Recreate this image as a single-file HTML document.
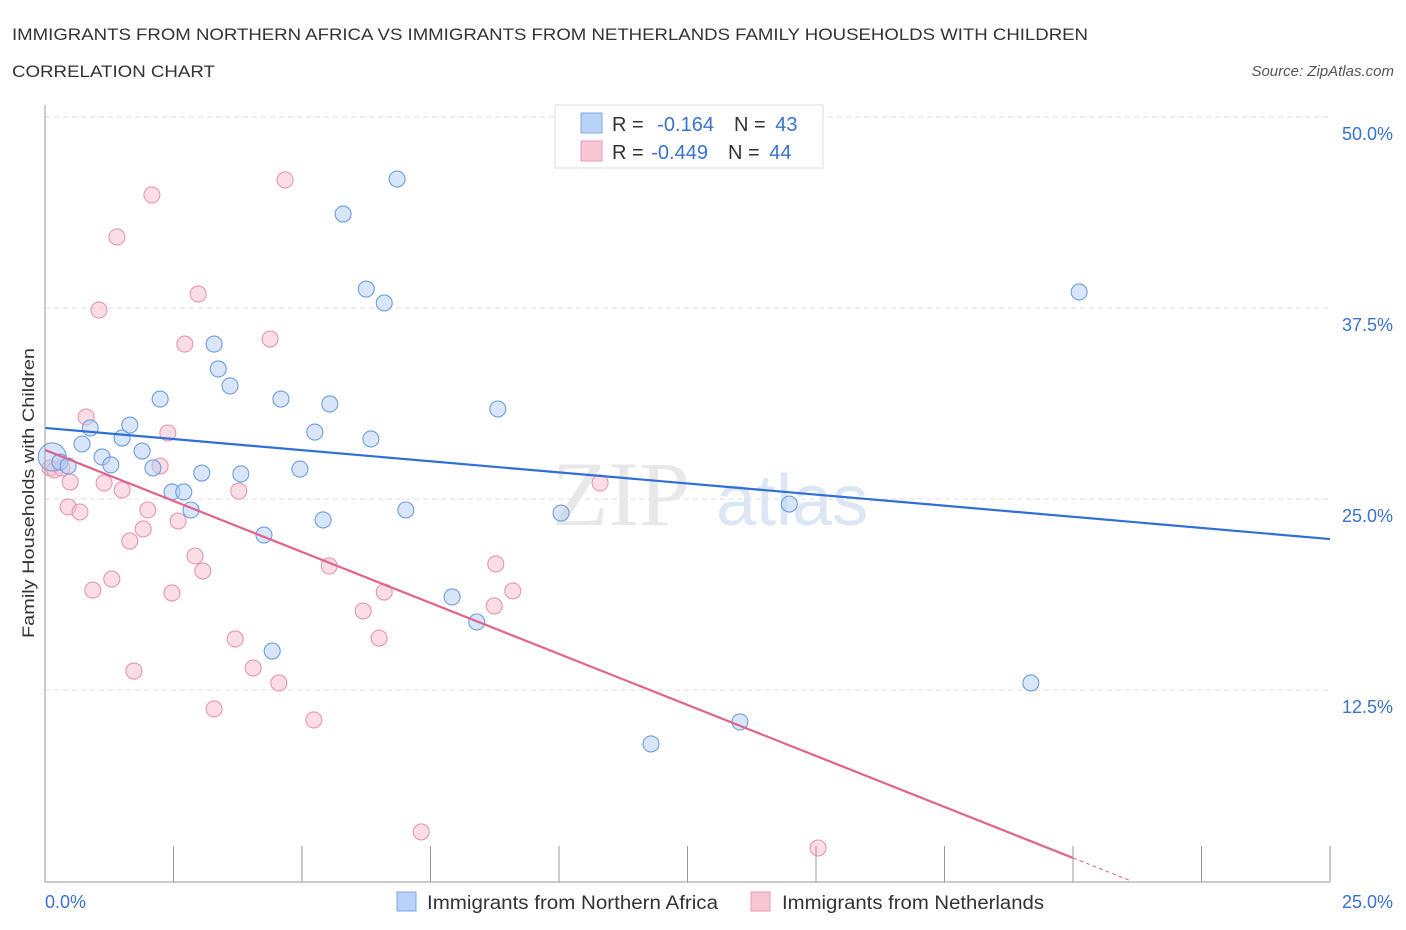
<!DOCTYPE html>
<html><head><meta charset="utf-8"><style>
body{margin:0;background:#fff;font-family:"Liberation Sans",sans-serif;}
svg{display:block}
</style></head><body>
<svg id="c" width="1406" height="930" font-family="Liberation Sans, sans-serif">
<text x="12" y="40" font-size="17" fill="#333" textLength="1076" lengthAdjust="spacingAndGlyphs">IMMIGRANTS FROM NORTHERN AFRICA VS IMMIGRANTS FROM NETHERLANDS FAMILY HOUSEHOLDS WITH CHILDREN</text>
<text x="12" y="77" font-size="17" fill="#333" textLength="203" lengthAdjust="spacingAndGlyphs">CORRELATION CHART</text>
<text x="1394" y="76" font-size="15" fill="#555" font-style="italic" text-anchor="end">Source: ZipAtlas.com</text>
<g id="grid"></g>
<text x="690" y="525" font-size="92" fill="#e8e8e8" font-family="Liberation Serif, serif" text-anchor="end">ZIP</text>
<text x="716" y="525" font-size="72" fill="#dde6f4">atlas</text>
<g id="pts"></g>
<g id="lines"></g>
<g id="axes"></g>
<text x="45" y="908" font-size="18" fill="#3a72d0">0.0%</text>
<text x="1393" y="908" font-size="18" fill="#3a72d0" text-anchor="end">25.0%</text>
<text transform="translate(34,493) rotate(-90)" font-size="17" fill="#333" text-anchor="middle" textLength="290" lengthAdjust="spacingAndGlyphs">Family Households with Children</text>
<g>
<rect x="555" y="105" width="268" height="63" fill="#fff" stroke="#ddd"/>
<rect x="581" y="113" width="21" height="20" fill="#b9d2f7" stroke="#7ea8e6"/>
<rect x="581" y="141" width="21" height="20" fill="#f9c6d5" stroke="#eb9bb4"/>
<text x="612" y="131" font-size="20" fill="#333">R = <tspan fill="#3a72d0" dx="8">-0.164</tspan><tspan dx="20">N = </tspan><tspan fill="#3a72d0" dx="4">43</tspan></text>
<text x="612" y="159" font-size="20" fill="#333">R = <tspan fill="#3a72d0" dx="2">-0.449</tspan><tspan dx="20">N = </tspan><tspan fill="#3a72d0" dx="4">44</tspan></text>
</g>
<g>
<rect x="397" y="892" width="19" height="19" fill="#b9d2f7" stroke="#7ea8e6"/>
<text x="427" y="909" font-size="19" fill="#333" textLength="291" lengthAdjust="spacingAndGlyphs">Immigrants from Northern Africa</text>
<rect x="751" y="892" width="19" height="19" fill="#f9c6d5" stroke="#eb9bb4"/>
<text x="782" y="909" font-size="19" fill="#333" textLength="262" lengthAdjust="spacingAndGlyphs">Immigrants from Netherlands</text>
</g>
</svg>
<script>
const blueX=[0.14,0.29,0.45,0.72,0.88,1.11,1.28,1.50,1.65,1.89,2.10,2.24,2.47,2.70,2.84,3.05,3.29,3.37,3.60,3.81,4.26,4.42,4.59,4.96,5.25,5.41,5.54,5.80,6.25,6.34,6.60,6.85,7.02,7.92,8.40,8.81,10.04,10.14,11.79,13.52,14.48,19.18,20.12];
const blueY=[27.75,27.42,27.16,28.60,29.65,27.75,27.23,28.99,29.84,28.14,27.03,31.54,25.46,25.46,24.28,26.70,35.14,33.51,32.40,26.64,22.64,15.05,31.54,26.96,29.38,23.63,31.22,43.65,38.74,28.93,37.83,45.94,24.28,18.59,16.95,30.89,24.08,49.28,8.97,10.41,24.67,12.96,38.55];
const pinkX=[0.10,0.19,0.33,0.49,0.45,0.68,0.80,0.93,1.05,1.15,1.30,1.40,1.50,1.65,1.73,1.91,2.00,2.08,2.24,2.39,2.47,2.59,2.72,2.92,2.98,3.07,3.29,3.70,3.77,4.05,4.38,4.55,4.67,5.23,5.53,6.19,6.50,6.60,7.32,8.77,8.74,9.10,10.80,15.04];
const pinkY=[27.03,26.90,27.03,26.11,24.48,24.15,30.37,19.04,37.37,26.05,19.76,42.15,25.59,22.25,13.74,23.04,24.28,44.90,27.16,29.32,18.85,23.56,35.14,21.27,38.42,20.29,11.26,15.84,25.52,13.94,35.47,12.96,45.88,10.54,20.62,17.67,15.90,18.91,3.21,20.75,18.00,18.98,26.05,2.16];
const yTicks=[12.5,25,37.5,50];
const yTickLabels=["12.5%","25.0%","37.5%","50.0%"];
const blueTrend=[29.65,22.38];
const pinkTrend=[28.21,-1.335];
const NS='http://www.w3.org/2000/svg';
const X=v=>45+v/25*1285, Y=v=>881-v/50*764;
function mk(tag,attrs,parent){const e=document.createElementNS(NS,tag);for(const k in attrs)e.setAttribute(k,attrs[k]);document.getElementById(parent).appendChild(e);return e;}
yTicks.forEach((t,i)=>{
  const l=mk('line',{x1:45,x2:1330,y1:Y(t),y2:Y(t),stroke:'#ddd','stroke-dasharray':'5,4'},'grid');
  
  
  const tx=mk('text',{x:1393,y:Y(t)+23,'font-size':18,fill:'#3a72d0','text-anchor':'end'},'grid');
  tx.textContent=yTickLabels[i];
  
  
});
mk('line',{x1:45,x2:45,y1:105,y2:882,stroke:'#999'},'axes');
mk('line',{x1:45,x2:1330,y1:882,y2:882,stroke:'#999'},'axes');
for(let i=0;i<=10;i++){const t=mk('line',{x1:X(i*2.5),x2:X(i*2.5),y1:846,y2:882,stroke:'#999'},'axes');
  
  }
function dots(xs,ys,fill,stroke,name){xs.forEach((x,i)=>{
  const c=mk('circle',{cx:X(x),cy:Y(ys[i]),r:(name==='blue-point'&&i===0)?14:8,fill:fill,'fill-opacity':0.5,stroke:stroke,'stroke-width':1.1},'pts');
  
  
});}
dots(pinkX,pinkY,'#f7bccd','#e995ae','pink-point');
dots(blueX,blueY,'#b3cdf4','#6b9ee0','blue-point');
const b=mk('line',{x1:X(0),y1:Y(blueTrend[0]),x2:X(25),y2:Y(blueTrend[1]),stroke:'#2f6fd6','stroke-width':2.2},'lines');


const xe=20, x0=-pinkTrend[0]/pinkTrend[1];
const p=mk('line',{x1:X(0),y1:Y(pinkTrend[0]),x2:X(xe),y2:Y(pinkTrend[0]+pinkTrend[1]*xe),stroke:'#e0638f','stroke-width':2.2},'lines');


const pd=mk('line',{x1:X(xe),y1:Y(pinkTrend[0]+pinkTrend[1]*xe),x2:X(x0),y2:Y(0),stroke:'#e0638f','stroke-width':1,'stroke-dasharray':'4,3'},'lines');


</script>
</body></html>
